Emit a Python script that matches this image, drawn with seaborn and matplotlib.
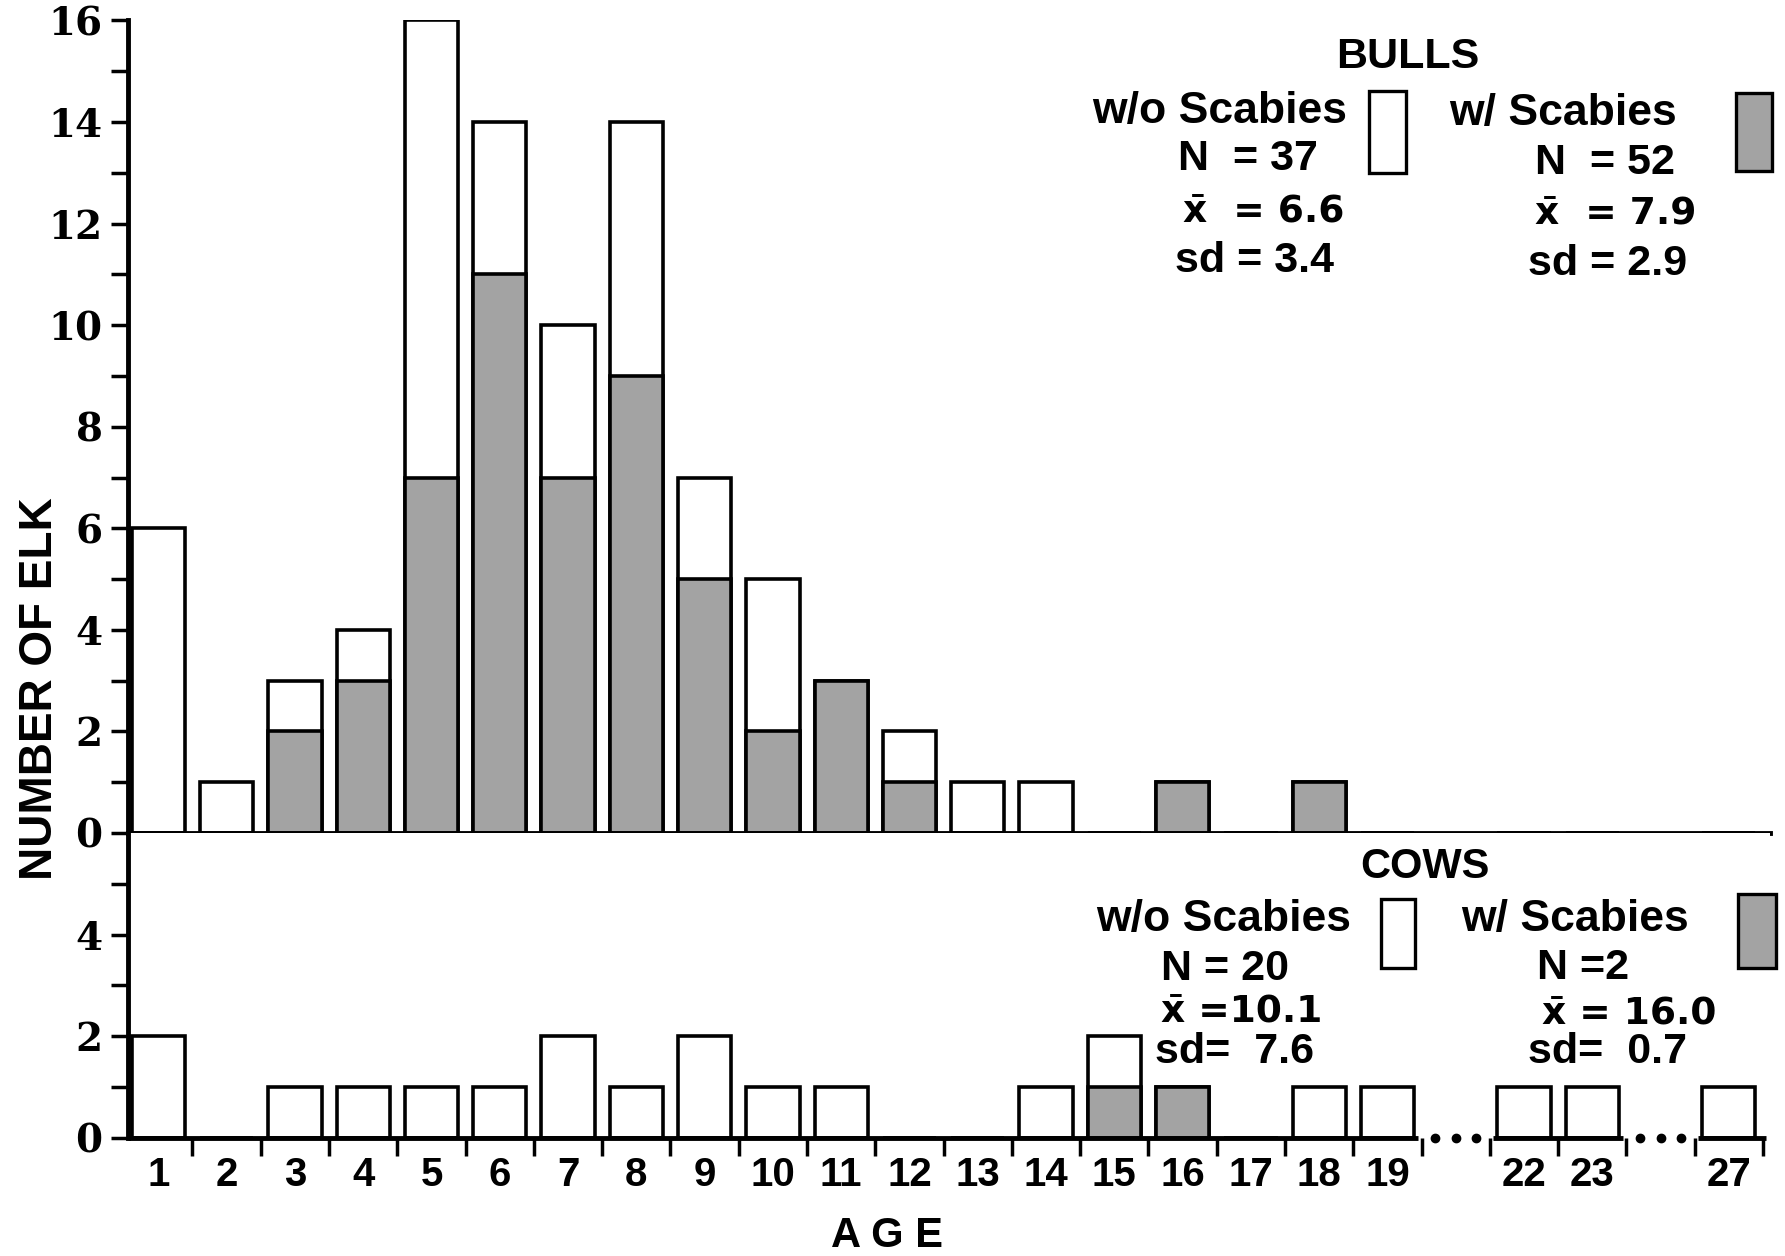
import numpy as np
import pandas as pd
import matplotlib
matplotlib.use("Agg")
import matplotlib.pyplot as plt
import seaborn as sns
from matplotlib.patches import Rectangle

# ages shown on the axis, plus two empty slots where the axis is broken
ages = ["1", "2", "3", "4", "5", "6", "7", "8", "9", "10", "11", "12", "13",
        "14", "15", "16", "17", "18", "19", "22", "23", "27"]
order = ages[:19] + ["gap1"] + ages[19:21] + ["gap2"] + ages[21:]

# bulls: total per age and the part with scabies
bull_total = [6, 1, 3, 4, 16, 14, 10, 14, 7, 5, 3, 2, 1, 1, 0, 1, 0, 1, 0, 0, 0, 0]
bull_scab = [0, 0, 2, 3, 7, 11, 7, 9, 5, 2, 3, 1, 0, 0, 0, 1, 0, 1, 0, 0, 0, 0]
# cows
cow_total = [2, 0, 1, 1, 1, 1, 2, 1, 2, 1, 1, 0, 0, 1, 2, 1, 0, 1, 1, 1, 1, 1]
cow_scab = [0, 0, 0, 0, 0, 0, 0, 0, 0, 0, 0, 0, 0, 0, 1, 1, 0, 0, 0, 0, 0, 0]

bulls = pd.DataFrame({"age": ages, "total": bull_total, "scab": bull_scab})
cows = pd.DataFrame({"age": ages, "total": cow_total, "scab": cow_scab})

sns.set_style("white")
plt.rcParams["font.family"] = ["Liberation Sans", "DejaVu Sans"]
plt.rcParams["font.weight"] = "bold"
plt.rcParams["text.color"] = "black"
plt.rcParams["axes.edgecolor"] = "black"
plt.rcParams["xtick.color"] = "black"
plt.rcParams["ytick.color"] = "black"

GRAY = "#a3a3a3"
LW = 2.6

fig = plt.figure(figsize=(17.85, 12.56), dpi=100)
ax_b = fig.add_axes([0.0715, 0.3368, 0.920, 0.6469])
ax_c = fig.add_axes([0.0715, 0.094, 0.920, 0.2428])


def draw(ax, df):
    sns.barplot(data=df, x="age", y="total", order=order, color="white",
                edgecolor="black", linewidth=LW, width=0.78, saturation=1, ax=ax)
    sns.barplot(data=df, x="age", y="scab", order=order, color=GRAY,
                edgecolor="black", linewidth=LW, width=0.78, saturation=1, ax=ax)
    ax.set_xlim(-0.45, 23.6)
    ax.set_xlabel("")
    ax.set_ylabel("")
    for s in ["top", "right"]:
        ax.spines[s].set_visible(False)
    ax.spines["left"].set_linewidth(3.5)
    ax.tick_params(axis="y", which="both", direction="out", length=12,
                   width=2.5, left=True, pad=6)


draw(ax_b, bulls)
draw(ax_c, cows)

# bulls panel
ax_b.set_ylim(0, 16)
ax_b.set_yticks(np.arange(0, 17, 2))
ax_b.set_yticks(np.arange(1, 16, 2), minor=True)
ax_b.set_xticks([])
ax_b.spines["bottom"].set_linewidth(3.5)
for lab in ax_b.get_yticklabels():
    lab.set_fontfamily("DejaVu Serif")
    lab.set_fontsize(28)

# cows panel
ax_c.set_ylim(0, 6)
ax_c.set_yticks([0, 2, 4])
ax_c.set_yticks([1, 3, 5], minor=True)
for lab in ax_c.get_yticklabels():
    lab.set_fontfamily("DejaVu Serif")
    lab.set_fontsize(28)
ax_c.spines["bottom"].set_visible(False)
ax_c.set_xticks(range(len(order)))
ax_c.set_xticklabels(["" if o.startswith("gap") else o for o in order],
                     fontsize=29, fontweight="bold")
ax_c.set_xticks(np.arange(0.5, len(order), 1.0), minor=True)
ax_c.tick_params(axis="x", which="major", length=0, pad=13)
ax_c.tick_params(axis="x", which="minor", bottom=True, direction="out",
                 length=13, width=2.5)
ax_c.set_xlim(-0.45, 23.6)

# broken baseline with dots across the skipped ages
ax_c.hlines([0, 0, 0], [-0.45, 19.55, 22.55], [18.45, 21.45, 23.55],
            colors="black", lw=3.5, clip_on=False, zorder=5)
for g in ["gap1", "gap2"]:
    gx = order.index(g)
    ax_c.plot([gx - 0.3, gx, gx + 0.3], [0, 0, 0], "o", color="black",
              ms=6, clip_on=False, zorder=5)

fig.text(0.0225, 0.452, "NUMBER OF ELK", rotation=90, ha="center",
         va="center", fontsize=33, fontweight="bold")
fig.text(0.497, 0.016, "A G E", ha="center", va="center", fontsize=30,
         fontweight="bold")

W, H = 1785.0, 1256.0


def ft(x, y, s, size=31, ha="left", family=None):
    t = fig.text(x / W, 1 - y / H, s, ha=ha, va="center", fontsize=size,
                 fontweight="bold")
    if family:
        t.set_fontfamily(family)


def key(x0, y0, x1, y1, face):
    fig.patches.append(Rectangle((x0 / W, 1 - y1 / H), (x1 - x0) / W,
                                 (y1 - y0) / H, transform=fig.transFigure,
                                 facecolor=face, edgecolor="black", lw=2.4))


XBAR = "x\u0304"
DV = ["DejaVu Sans"]

# bulls legend
ft(1408, 57, "BULLS", 31, "center")
ft(1347, 112, "w/o Scabies", 32, "right")
ft(1178, 159, "N  = 37")
ft(1183, 212, XBAR + "  = 6.6", 27, family=DV)
ft(1175, 261, "sd = 3.4")
key(1369, 91, 1406, 173, "white")
ft(1449, 114, "w/ Scabies", 32)
ft(1535, 163, "N  = 52")
ft(1535, 213, XBAR + "  = 7.9", 27, family=DV)
ft(1528, 264, "sd = 2.9")
key(1736, 93, 1772, 171, GRAY)

# cows legend
ft(1425, 867, "COWS", 30, "center")
ft(1351, 920, "w/o Scabies", 32, "right")
key(1381, 899, 1415, 968, "white")
ft(1161, 969, "N = 20")
ft(1161, 1012, XBAR + " =10.1", 27, family=DV)
ft(1155, 1052, "sd=  7.6")
ft(1461, 920, "w/ Scabies", 32)
key(1738, 894, 1776, 968, GRAY)
ft(1537, 968, "N =2")
ft(1542, 1013, XBAR + " = 16.0", 27, family=DV)
ft(1528, 1052, "sd=  0.7")

fig.savefig("out.png", dpi=100)
